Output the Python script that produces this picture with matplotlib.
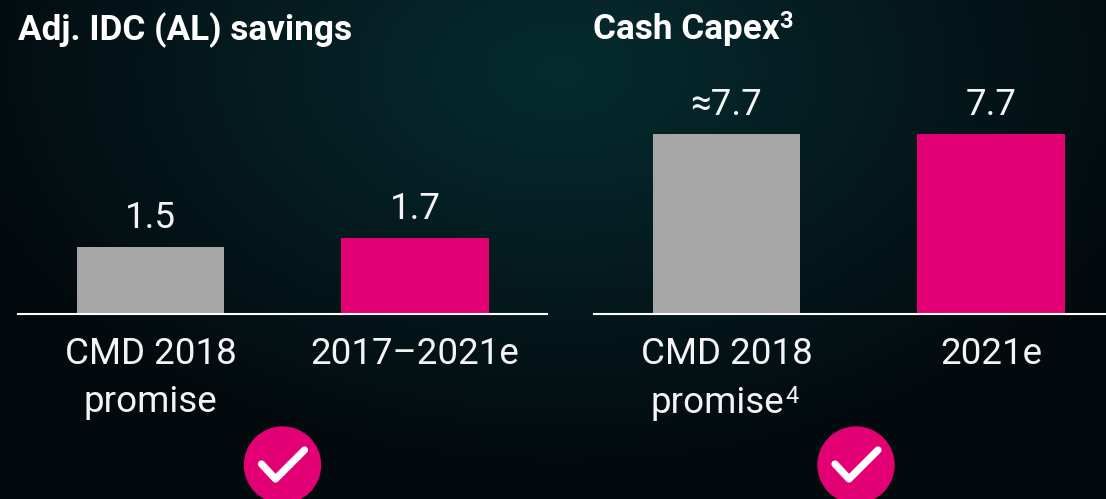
import matplotlib
matplotlib.use("Agg")
import matplotlib.pyplot as plt
import numpy as np
from matplotlib.patches import Circle

plt.rcParams['font.family'] = ['Roboto', 'DejaVu Sans']

left_title = "Adj. IDC (AL) savings"
right_title = "Cash Capex"
right_title_note = "3"
left_categories = ["CMD 2018\npromise", "2017–2021e"]
left_values = [1.5, 1.7]
left_labels = ["1.5", "1.7"]
right_categories = ["CMD 2018", "2021e"]
right_second_line = "promise"
right_second_note = "4"
right_values = [7.7, 7.7]
right_labels = ["≈7.7", "7.7"]
colors = ["#a6a6a6", "#e20074"]
ink = '#f4f4f4'

W, H = 1106, 499
fig = plt.figure(figsize=(W/100, H/100), dpi=100)

# background: dark radial glow
bg = fig.add_axes([0, 0, 1, 1], zorder=0)
y, x = np.mgrid[0:H, 0:W]
d = np.sqrt(((x-560)/620)**2 + ((y-70)/400)**2)
t = np.clip(d, 0, 1)[..., None]
c0 = np.array([6, 44, 48])/255
c1 = np.array([3, 10, 14])/255
bg.imshow(c0*(1-t)+c1*t, aspect='auto', extent=(0, W, H, 0))
bg.set_xlim(0, W); bg.set_ylim(H, 0); bg.axis('off')

def panel(x0, x1, cats, vals, labs, scale_top):
    ax = fig.add_axes([x0/W, 1-314/H, (x1-x0)/W, 200/H], zorder=1)
    ax.patch.set_alpha(0)
    ax.bar([0, 1], vals, width=147.5/264.5, color=colors)
    ax.set_xlim(-0.5, 1.5)
    ax.set_ylim(0, scale_top)
    for s in ['top', 'left', 'right']:
        ax.spines[s].set_visible(False)
    ax.spines['bottom'].set_color('white')
    ax.spines['bottom'].set_linewidth(1.5)
    ax.set_yticks([])
    ax.set_xticks([0, 1], cats)
    ax.tick_params(axis='x', length=0, pad=15.5, labelsize=26.5, colors=ink)
    for lab in ax.get_xticklabels():
        lab.set_linespacing(1.44)
    for i, (v, l) in enumerate(zip(vals, labs)):
        ax.annotate(l, (i, v), xytext=(0, 8.2), textcoords='offset points',
                    ha='center', va='bottom', color=ink, fontsize=26.5)
    return ax

panel(18.2, 547.2, left_categories, left_values, left_labels, 1.7*200/76)
panel(594.2, 1123.2, right_categories, right_values, right_labels, 7.7*200/180)

fig.text(18/W, 1-30/H, left_title, color='white', fontsize=25.3, fontweight='bold', va='center', ha='left')
fig.text(593/W, 1-30/H, right_title, color='white', fontsize=25.3, fontweight='bold', va='center', ha='left')
fig.text(779/W, 1-33/H + 5/H, right_title_note, color='white', fontsize=17, fontweight='bold', va='baseline', ha='left')
fig.text(717/W, 1-413/H, right_second_line, color=ink, fontsize=26.5, va='baseline', ha='center')
fig.text(785/W, 1-403/H, right_second_note, color=ink, fontsize=17, va='baseline', ha='left')

# check badges
for cx in (282.5, 856):
    bg.add_patch(Circle((cx, 465), 38, color=colors[1], zorder=3))
    bg.plot([cx-21, cx-7, cx+22], [464, 479, 450], color='white', lw=5.2,
            solid_capstyle='round', solid_joinstyle='round', zorder=4)

fig.savefig("out.png", dpi=100)
